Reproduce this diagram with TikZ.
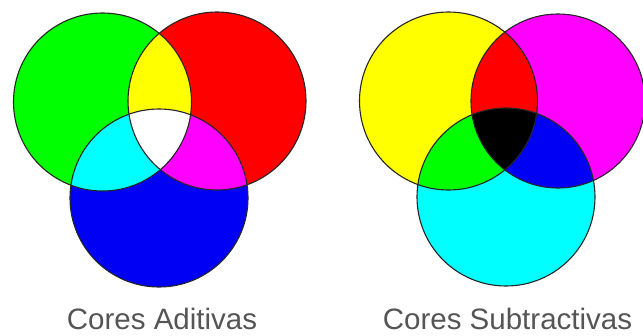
\documentclass[tikz,border=0pt]{standalone}
\usepackage{fontspec}
\setmainfont{Liberation Sans}
\usepackage{xcolor}
\definecolor{labelgray}{HTML}{555555}
\definecolor{rgbgreen}{HTML}{00FF00}
\definecolor{rgbred}{HTML}{FF0000}
\definecolor{rgbblue}{HTML}{0000F5}
\definecolor{rgbyellow}{HTML}{FFFF00}
\definecolor{rgbcyan}{HTML}{00FFFF}
\definecolor{rgbmagenta}{HTML}{FF00FF}

\begin{document}
\begin{tikzpicture}[x=1pt,y=-1pt,
  ring/.style={draw=black!85,line width=1.1pt},
  caption/.style={text=labelgray,font=\fontsize{29.5}{32}\selectfont,anchor=base,inner sep=0pt}]
  \useasboundingbox[fill=white] (0,0) rectangle (643,335);
  \def\rad{89}
  % additive
  \coordinate (G) at (102.5,102);
  \coordinate (R) at (217,101);
  \coordinate (B) at (159,198);
  \fill[rgbgreen] (G) circle (\rad);
  \fill[rgbred] (R) circle (\rad);
  \fill[rgbblue] (B) circle (\rad);
  \begin{scope}
    \clip (G) circle (\rad);
    \fill[rgbyellow] (R) circle (\rad);
    \fill[rgbcyan] (B) circle (\rad);
    \clip (R) circle (\rad);
    \fill[white] (B) circle (\rad);
  \end{scope}
  \begin{scope}
    \clip (R) circle (\rad);
    \clip (B) circle (\rad);
    \fill[rgbmagenta] (G) circle (200);
    \clip (G) circle (\rad);
    \fill[white] (B) circle (\rad);
  \end{scope}
  \draw[ring] (G) circle (\rad);
  \draw[ring] (R) circle (\rad);
  \draw[ring] (B) circle (\rad);
  % subtractive
  \coordinate (Y) at (448.5,101);
  \coordinate (M) at (558,101);
  \coordinate (C) at (506,197);
  \fill[rgbyellow] (Y) circle (\rad);
  \fill[rgbmagenta] (M) circle (87);
  \fill[rgbcyan] (C) circle (\rad);
  \begin{scope}
    \clip (Y) circle (\rad);
    \fill[rgbred] (M) circle (87);
    \fill[rgbgreen] (C) circle (\rad);
  \end{scope}
  \begin{scope}
    \clip (M) circle (87);
    \clip (C) circle (\rad);
    \fill[rgbblue] (M) circle (87);
    \clip (Y) circle (\rad);
    \fill[black] (C) circle (\rad);
  \end{scope}
  \draw[ring] (Y) circle (\rad);
  \draw[ring] (M) circle (87);
  \draw[ring] (C) circle (\rad);
  \node[caption] (add) at (162,329) {Cores Aditivas};
  \node[caption] (sub) at (507.5,329) {Cores Subtractivas};
\end{tikzpicture}
\end{document}
